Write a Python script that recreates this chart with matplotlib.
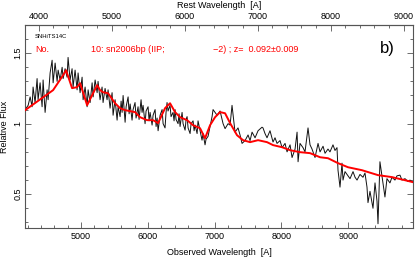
import matplotlib
matplotlib.use("Agg")
import matplotlib.pyplot as plt
from matplotlib.ticker import MultipleLocator, FixedLocator

plt.rcParams['font.family'] = ['Liberation Sans', 'DejaVu Sans']

z = 0.092

# Observed spectrum (black)
obs_wave = [4162, 4207, 4237, 4266, 4281, 4311, 4341, 4356, 4386, 4416, 4431, 4461, 4491, 4506,
            4536, 4566, 4581, 4611, 4641, 4656, 4686, 4716, 4731, 4760, 4790, 4805, 4835, 4865,
            4880, 4910, 4940, 4955, 4985, 5015, 5030, 5060, 5090, 5105, 5135, 5165, 5180, 5210,
            5240, 5254, 5284, 5314, 5329, 5359, 5389, 5404, 5434, 5464, 5479, 5509, 5539,
            5554, 5584, 5599, 5614, 5629, 5659, 5674, 5704, 5719, 5734, 5763, 5778, 5808, 5823,
            5853, 5868, 5898, 5913, 5928, 5958, 5973, 6003, 6018, 6033, 6063, 6078, 6108, 6123,
            6138, 6153, 6183, 6213, 6228, 6257, 6272, 6287, 6302, 6332, 6347, 6377, 6392, 6407,
            6422, 6452, 6467, 6482, 6512, 6527, 6557, 6572, 6587, 6602, 6632, 6647, 6677, 6692,
            6707, 6737, 6751, 6781, 6811, 6826, 6856, 6871, 6901, 6931, 6961, 6976, 7006,
            7036, 7081, 7126, 7156, 7201, 7231, 7260, 7305, 7350, 7380, 7410, 7455, 7500, 7530,
            7560, 7605, 7650, 7709, 7724, 7754, 7784, 7829, 7874, 7904, 7934, 7979, 8009, 8054,
            8084, 8129, 8159, 8204, 8234, 8249, 8278, 8323, 8353, 8398, 8428,
            8458, 8503, 8548, 8578, 8623, 8653, 8697, 8727, 8772, 8802, 8832, 8847, 8877, 8907,
            8922, 8952, 8997, 9027, 9072, 9102, 9132, 9176, 9221, 9251, 9281, 9296, 9326, 9371,
            9401, 9431, 9446, 9475, 9520, 9550, 9580, 9625, 9655, 9700, 9730, 9775, 9805, 9850,
            9894, 9924, 9969]
obs_flux = [1.10, 1.13, 1.19, 1.12, 1.26, 1.15, 1.32, 1.17, 1.29, 1.12, 1.31, 1.08, 1.24, 1.17,
            1.36, 1.45, 1.29, 1.43, 1.30, 1.38, 1.31, 1.40, 1.32, 1.39, 1.33, 1.47, 1.31, 1.39,
            1.26, 1.38, 1.24, 1.36, 1.22, 1.33, 1.17, 1.26, 1.12, 1.24, 1.15, 1.29, 1.19, 1.31,
            1.22, 1.30, 1.17, 1.26, 1.15, 1.25, 1.17, 1.24, 1.11, 1.22, 1.06, 1.17, 1.025,
            1.12, 1.05, 1.16, 1.08, 1.20, 1.01, 1.12, 1.19, 1.07, 1.14, 1.025, 1.10, 1.15, 1.04,
            1.12, 1.03, 1.17, 1.08, 1.13, 1.00, 1.09, 1.12, 1.02, 1.08, 0.99, 1.06, 1.10, 0.98,
            1.04, 0.95, 1.06, 1.10, 1.00, 0.97, 1.08, 1.15, 1.09, 1.13, 1.05, 1.08, 1.02, 1.10,
            1.03, 1.00, 1.07, 0.98, 1.08, 1.00, 0.954, 1.03, 1.05, 0.97, 0.93, 1.00, 1.02, 0.95,
            0.99, 0.93, 1.02, 0.95, 0.883, 0.93, 0.85, 0.89, 0.91, 0.98, 1.05, 1.10, 1.08,
            1.06, 1.09, 1.00, 0.965, 1.00, 0.99, 1.13, 0.94, 0.97, 0.92, 0.86, 0.88, 0.92, 0.88,
            0.94, 0.90, 0.95, 0.975, 0.97, 0.93, 0.90, 0.95, 0.87, 0.90, 0.86, 0.88, 0.83, 0.86,
            0.80, 0.85, 0.76, 0.82, 0.94, 0.73, 0.86, 0.83, 0.80, 0.97, 0.85,
            0.82, 0.76, 0.86, 0.80, 0.84, 0.79, 0.82, 0.80, 0.85, 0.81, 0.83, 0.67, 0.55, 0.72,
            0.60, 0.66, 0.63, 0.61, 0.66, 0.62, 0.60, 0.64, 0.62, 0.65, 0.55, 0.44, 0.52, 0.40,
            0.58, 0.45, 0.29, 0.73, 0.58, 0.48, 0.61, 0.58, 0.62, 0.60, 0.63, 0.635, 0.60, 0.61,
            0.59, 0.60, 0.585]

# Template (red)
tmpl_wave = [4162, 4581, 4731, 4775, 4865, 4940, 4985, 5090, 5165, 5240, 5284, 5329, 5404,
             5509, 5584, 5659, 5808, 5883, 5988, 6078, 6153, 6257, 6332, 6407, 6482, 6587,
             6677, 6781, 6856, 6931, 7006, 7081, 7156, 7231, 7335, 7425, 7530, 7650, 7784,
             7874, 8009, 8129, 8278, 8428, 8578, 8697, 8847, 8997, 9206, 9446, 9655, 9850, 9970]
tmpl_flux = [1.096, 1.238, 1.344, 1.379, 1.252, 1.259, 1.287, 1.131, 1.202, 1.273, 1.238,
             1.223, 1.216, 1.145, 1.110, 1.096, 1.082, 1.046, 1.025, 1.025, 1.004, 1.110,
             1.145, 1.082, 1.046, 1.025, 0.989, 0.968, 0.897, 0.989, 1.046, 1.082, 1.074,
             1.004, 0.918, 0.883, 0.869, 0.883, 0.869, 0.848, 0.833, 0.812, 0.798, 0.791,
             0.762, 0.755, 0.720, 0.691, 0.670, 0.635, 0.621, 0.599, 0.585]

bottom_ticks = [5000, 6000, 7000, 8000, 9000]
top_ticks = [4000, 5000, 6000, 7000, 8000, 9000]
y_ticks = [0.5, 1.0, 1.5]
y_labels = ["0.5", "1", "1.5"]

fig = plt.figure(figsize=(4.15, 2.58), dpi=100)
ax = fig.add_axes([25/415, 30/258, 388/415, 203/258])

ax.plot(obs_wave, obs_flux, color='#111111', lw=0.7, zorder=2)
ax.plot(tmpl_wave, tmpl_flux, color='#ff0000', lw=1.4, zorder=3)

ax.set_xlim(4160, 9970)
ax.set_ylim(0.26, 1.70)

spine_col = '#555555'
for s in ax.spines.values():
    s.set_color(spine_col)
    s.set_linewidth(0.8)

ax.xaxis.set_major_locator(FixedLocator(bottom_ticks))
ax.xaxis.set_minor_locator(MultipleLocator(200))
ax.yaxis.set_major_locator(FixedLocator(y_ticks))
ax.set_yticklabels(y_labels, rotation=90, va='center')
ax.yaxis.set_minor_locator(MultipleLocator(0.1))
ax.tick_params(which='both', direction='in', top=False, right=True, color=spine_col,
               labelsize=6.5, width=0.6, pad=3)
ax.tick_params(which='major', length=4)
ax.tick_params(which='minor', length=2)
ax.tick_params(axis='y', which='major', pad=2)

sec = ax.secondary_xaxis('top', functions=(lambda w: w/(1+z), lambda r: r*(1+z)))
sec.xaxis.set_major_locator(FixedLocator(top_ticks))
sec.xaxis.set_minor_locator(MultipleLocator(200))
sec.tick_params(which='both', direction='in', color=spine_col, labelsize=6.5, width=0.6, pad=3)
sec.tick_params(which='major', length=4)
sec.tick_params(which='minor', length=2)
sec.spines['top'].set_color(spine_col)
sec.set_xlabel("Rest Wavelength  [A]", fontsize=6.5, labelpad=3)

ax.set_xlabel("Observed Wavelength  [A]", fontsize=6.5, labelpad=5)
ax.set_ylabel("Relative Flux", fontsize=6.5, labelpad=3)

ax.text(35, 36, "SNHiTS14C", transform=None, fontsize=4.2, color='black', va='center') if False else None
fig.text(35/415, 1-36/258, "SNHiTS14C", fontsize=4.2, color='black', va='center')
fig.text(35/415, 1-50/258, "No.", fontsize=6.5, color='red', va='center')
fig.text(91/415, 1-50/258, "10: sn2006bp (IIP;", fontsize=6.5, color='red', va='center')
fig.text(213/415, 1-50/258, "\u22122) ; z=  0.092\u00b10.009", fontsize=6.5, color='red', va='center')
fig.text(380/415, 1-49/258, "b)", fontsize=12, color='black', va='center')

fig.savefig("out.png", dpi=100)
